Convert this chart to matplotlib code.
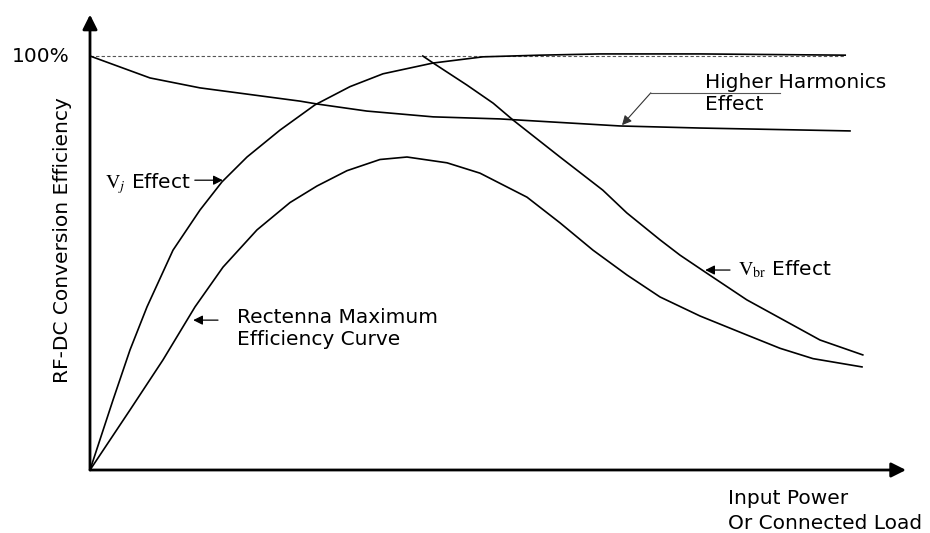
import numpy as np
import matplotlib
matplotlib.use('Agg')
import matplotlib.pyplot as plt

plt.rcParams['font.family'] = ['DejaVu Sans']
plt.rcParams['mathtext.fontset'] = 'stix'

# curves (x: arbitrary input power units, y: efficiency %)
vj_x = [0, 2.875, 5, 7.125, 10.375, 13.75, 16.5, 19.625, 23.75, 28.125, 32.5, 36.625,
        42.875, 49.125, 56.25, 63.75, 76.25, 94.4]
vj_y = [0, 16.9, 29.0, 39.4, 53.1, 62.8, 69.6, 75.6, 82.1, 88.2, 92.6, 95.7,
        98.3, 99.8, 100.2, 100.5, 100.5, 100.2]

rect_x = [0, 5, 9.125, 13.125, 16.625, 20.875, 25, 28.375, 32.125, 36.25, 39.625, 44.625,
          48.75, 54.625, 58.75, 62.875, 67.125, 71.25, 76.25, 82.125, 86.25, 90.375, 96.5]
rect_y = [0, 14.5, 26.6, 39.4, 49.0, 58.0, 64.6, 68.6, 72.3, 75.0, 75.6, 74.2,
          71.7, 65.9, 59.7, 53.1, 47.1, 41.8, 37.2, 32.6, 29.4, 26.9, 24.9]

vbr_x = [41.6, 42.9, 47.1, 50.4, 52.9, 58.75, 64.1, 67.1, 71.25, 73.75, 76.9, 82.1, 91.25, 96.6]
vbr_y = [100, 98.3, 93.0, 88.6, 84.5, 75.6, 67.6, 62.1, 55.6, 51.9, 47.8, 41.1, 31.4, 27.8]

harm_x = [0, 7.5, 13.75, 26.25, 28.4, 34.6, 42.9, 51.25, 66.25, 76.25, 95]
harm_y = [100, 94.7, 92.3, 89.1, 88.4, 86.7, 85.3, 84.8, 83.1, 82.6, 81.9]

fig = plt.figure(figsize=(9.3, 5.33), dpi=100)
ax = fig.add_axes([90 / 930, 63 / 533, 816 / 930, 455.4 / 533])
ax.set_xlim(0, 102)
ax.set_ylim(0, 110)
ax.axis('off')

# axes with arrow heads
arrow_kw = dict(arrowstyle='-|>', lw=2, color='black', mutation_scale=22, shrinkA=0, shrinkB=0)
ax.annotate('', xy=(0, 110), xytext=(0, 0), arrowprops=arrow_kw, annotation_clip=False)
ax.annotate('', xy=(102, 0), xytext=(0, 0), arrowprops=arrow_kw, annotation_clip=False)

# 100% reference
ax.plot([0, 94.4], [100, 100], ls=(0, (3, 2)), lw=0.8, color='#555555')
ax.text(-2.5, 100, '100%', ha='right', va='center', fontsize=14.5, clip_on=False)

lw = 1.2
ax.plot(vj_x, vj_y, color='black', lw=lw)
ax.plot(rect_x, rect_y, color='black', lw=lw)
ax.plot(vbr_x, vbr_y, color='black', lw=lw)
ax.plot(harm_x, harm_y, color='black', lw=lw)

small_arrow = dict(arrowstyle='-|>', lw=0.9, color='black', mutation_scale=14, shrinkA=0, shrinkB=0)
fs = 14.5

ax.annotate('', xy=(16.6, 70), xytext=(13.1, 70), arrowprops=small_arrow)
ax.text(1.9, 69.3, r'$\mathrm{V}_{j}$ Effect', ha='left', va='center', fontsize=fs)

ax.annotate('', xy=(12.9, 36.2), xytext=(16.0, 36.2), arrowprops=small_arrow)
ax.text(18.4, 34.2, 'Rectenna Maximum\nEfficiency Curve', ha='left', va='center',
        fontsize=fs, linespacing=1.2)

ax.annotate('', xy=(76.9, 48.3), xytext=(80.0, 48.3), arrowprops=small_arrow)
ax.text(81.0, 48.5, r'$\mathrm{V}_{\mathrm{br}}$ Effect', ha='left', va='center', fontsize=fs)

ax.plot([86.25, 70.1], [91.1, 91.1], color='#555555', lw=0.8)
ax.annotate('', xy=(66.5, 83.3), xytext=(70.1, 91.1),
            arrowprops=dict(arrowstyle='-|>', lw=0.8, color='#333333', mutation_scale=14,
                            shrinkA=0, shrinkB=0))
ax.text(76.9, 91.0, 'Higher Harmonics\nEffect', ha='left', va='center', fontsize=fs,
        linespacing=1.2)

ax.text(-3.5, 55.5, 'RF-DC Conversion Efficiency', rotation=90, ha='center', va='center',
        fontsize=fs, clip_on=False)
ax.text(79.75, -9.9, 'Input Power\nOr Connected Load', ha='left', va='center', fontsize=fs,
        linespacing=1.35, clip_on=False)

fig.savefig('out.png', dpi=100)
